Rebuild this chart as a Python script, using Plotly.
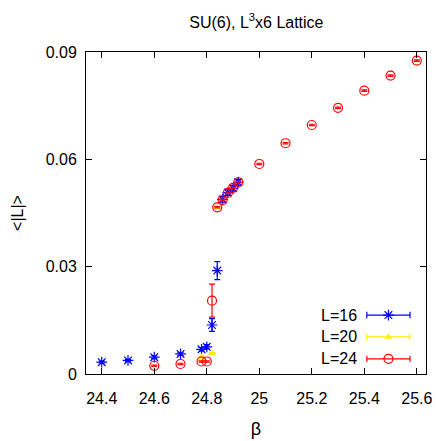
import plotly.graph_objects as go

# ---- data ----
beta_L16 = [24.4, 24.5, 24.6, 24.7, 24.78, 24.8, 24.82, 24.84, 24.86, 24.88, 24.9, 24.92]
ploop_L16 = [0.0033, 0.0038, 0.0047, 0.0056, 0.0069, 0.0076, 0.0137, 0.0289, 0.0488, 0.0507, 0.0519, 0.0536]
err_L16 = [0.0003, 0.0003, 0.0004, 0.0004, 0.0005, 0.0006, 0.0018, 0.0025, 0.0008, 0.0008, 0.0008, 0.0008]

beta_L20 = [24.78, 24.82, 24.84]
ploop_L20 = [0.0048, 0.0057, 0.0466]
err_L20 = [0.0003, 0.0003, 0.0003]

beta_L24 = [24.6, 24.7, 24.78, 24.8, 24.82, 24.84, 24.86, 24.88, 24.9, 24.92,
            25.0, 25.1, 25.2, 25.3, 25.4, 25.5, 25.6]
ploop_L24 = [0.0023, 0.0028, 0.0035, 0.0035, 0.0205, 0.0466, 0.0486, 0.0506, 0.0520, 0.0536,
             0.0587, 0.0645, 0.0696, 0.0744, 0.0792, 0.0834, 0.0876]
err_L24 = [0.0002, 0.0002, 0.0002, 0.0002, 0.0046, 0.0002, 0.0002, 0.0002, 0.0002, 0.0002,
           0.0002, 0.0002, 0.0002, 0.0002, 0.0002, 0.0002, 0.0002]

series_names = ["L=16", "L=20", "L=24"]
x_ticks = [24.4, 24.6, 24.8, 25.0, 25.2, 25.4, 25.6]
x_tick_labels = ["24.4", "24.6", "24.8", "25", "25.2", "25.4", "25.6"]
y_ticks = [0, 0.03, 0.06, 0.09]
y_tick_labels = ["0", "0.03", "0.06", "0.09"]

FONT = "Liberation Sans, Arial, sans-serif"
BLUE, YELLOW, RED = "#0000ff", "#ffee00", "#ff0000"

styles = [
    dict(color=BLUE, symbol="asterisk-open", size=9, lw=1.2),
    dict(color=YELLOW, symbol="triangle-up", size=7, lw=0),
    dict(color=RED, symbol="circle-open", size=9, lw=1.2),
]
datasets = [(beta_L16, ploop_L16, err_L16), (beta_L20, ploop_L20, err_L20), (beta_L24, ploop_L24, err_L24)]

fig = go.Figure()
for (bx, by, be), st, name in zip(datasets, styles, series_names):
    fig.add_trace(go.Scatter(
        x=bx, y=by, mode="markers", name=name, showlegend=False,
        marker=dict(symbol=st["symbol"], size=st["size"], color=st["color"],
                    line=dict(color=st["color"], width=st["lw"])),
        error_y=dict(type="data", array=be, visible=True, color=st["color"], thickness=1.2, width=3),
    ))

# ---- hand-made gnuplot-style key (paper coordinates on an overlay axis) ----
key_rows = [0.183, 0.115, 0.047]
key_x0, key_x1, key_text = 0.826, 0.953, 0.803
shapes = []
annotations = []
for row, st, name in zip(key_rows, styles, series_names):
    shapes.append(dict(type="line", xref="paper", yref="paper", x0=key_x0, x1=key_x1, y0=row, y1=row,
                       line=dict(color=st["color"], width=1.2)))
    for xc in (key_x0, key_x1):
        shapes.append(dict(type="line", xref="paper", yref="paper", x0=xc, x1=xc,
                           y0=row - 0.01, y1=row + 0.01, line=dict(color=st["color"], width=1.2)))
    annotations.append(dict(xref="paper", yref="paper", x=key_text, y=row, text=name, showarrow=False,
                            xanchor="right", yanchor="middle", font=dict(family=FONT, size=16, color="black")))
    fig.add_trace(go.Scatter(
        x=[(key_x0 + key_x1) / 2], y=[row], xaxis="x2", yaxis="y2", mode="markers", showlegend=False,
        hoverinfo="skip",
        marker=dict(symbol=st["symbol"], size=st["size"], color=st["color"],
                    line=dict(color=st["color"], width=st["lw"])),
    ))

axis_common = dict(showline=True, linecolor="black", linewidth=1, mirror="allticks", ticks="inside",
                   ticklen=6, tickcolor="black", showgrid=False, zeroline=False, automargin=False,
                   tickfont=dict(family=FONT, size=16, color="black"))

fig.update_layout(
    width=436, height=441,
    margin=dict(l=86, r=10, t=52, b=67, autoexpand=False),
    paper_bgcolor="white", plot_bgcolor="white",
    font=dict(family=FONT, size=16, color="black"),
    title=dict(text="SU(6), L<sup>3</sup>x6 Lattice", x=0.588, xanchor="center", y=0.95, yanchor="middle",
               font=dict(family=FONT, size=16, color="black")),
    xaxis=dict(range=[24.34, 25.635], tickvals=x_ticks, ticktext=x_tick_labels, ticklabelstandoff=10,
               title=dict(text="β", font=dict(family=FONT, size=18), standoff=16), **axis_common),
    yaxis=dict(range=[0, 0.09], tickvals=y_ticks, ticktext=y_tick_labels, ticklabelstandoff=5,
               title=dict(text="<|L|>", font=dict(family=FONT, size=16), standoff=18), **axis_common),
    xaxis2=dict(overlaying="x", range=[0, 1], visible=False, anchor="y2"),
    yaxis2=dict(overlaying="y", range=[0, 1], visible=False, anchor="x2"),
    shapes=shapes, annotations=annotations,
)

fig.write_html("out.html", config={"displayModeBar": False},
               post_script="document.body.style.margin='0';document.body.style.padding='0';")
